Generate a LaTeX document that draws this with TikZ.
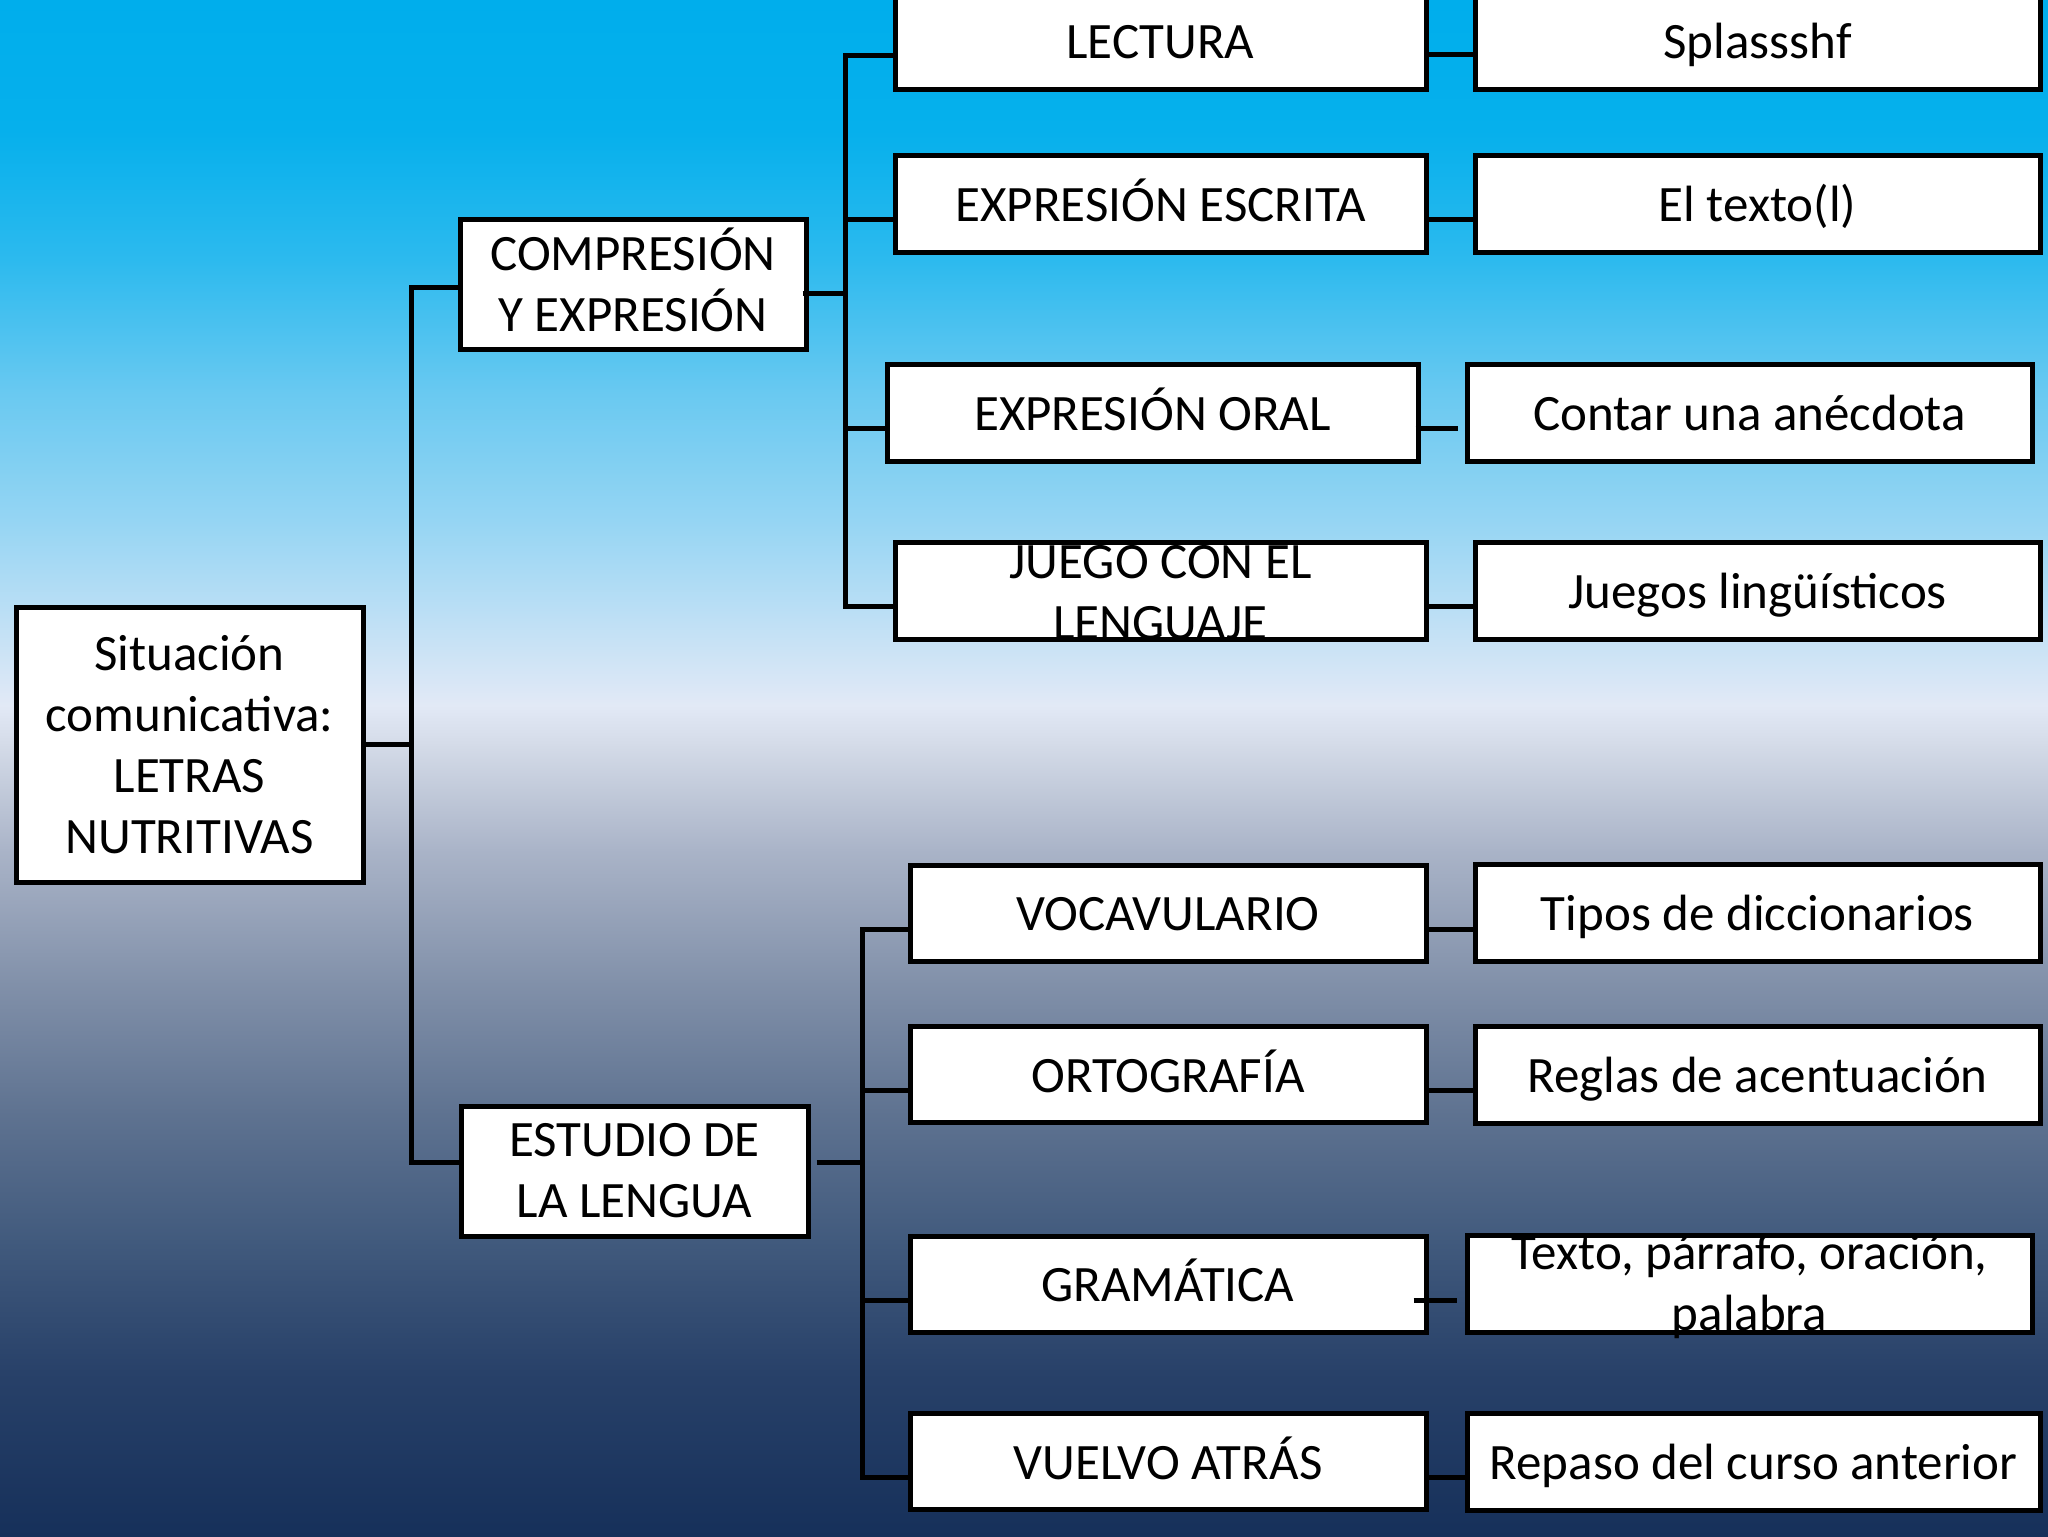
\documentclass[tikz,border=0pt]{standalone}
\usepackage{fontspec}
\setmainfont{Carlito}
\definecolor{bga}{RGB}{0,174,236}
\definecolor{bgb}{RGB}{6,176,236}
\definecolor{bgc}{RGB}{45,186,238}
\definecolor{bgd}{RGB}{105,201,241}
\definecolor{bge}{RGB}{150,213,243}
\definecolor{bgf}{RGB}{188,223,245}
\definecolor{bgg}{RGB}{226,233,246}
\definecolor{bgh}{RGB}{212,219,232}
\definecolor{bgi}{RGB}{170,180,200}
\definecolor{bgj}{RGB}{130,145,170}
\definecolor{bgk}{RGB}{95,115,145}
\definecolor{bgl}{RGB}{65,90,125}
\definecolor{bgm}{RGB}{40,65,105}
\definecolor{bgn}{RGB}{22,48,90}
\tikzset{
  box/.style={draw=black, line width=2.5pt, fill=white, inner sep=0pt},
  txt/.style={font=\fontsize{25.5}{30.5}\selectfont, align=center, text=black, inner sep=0pt},
  one/.style={txt, text height=19.5pt, text depth=2pt},
  conn/.style={draw=black, line width=2.5pt},
  midbox/.style={box, minimum width=265.5pt, minimum height=48.5pt},
  rightbox/.style={box, minimum width=282.5pt, minimum height=48.5pt},
  lowbox/.style={box, minimum width=258pt, minimum height=48pt},
}
\begin{document}
\begin{tikzpicture}[x=0.5pt,y=-0.5pt]
\useasboundingbox (0,0) rectangle (2048,1536);
% background
\shade[top color=bga, bottom color=bgb] (0,-1) rectangle (2048,132);
\shade[top color=bgb, bottom color=bgc] (0,131) rectangle (2048,262);
\shade[top color=bgc, bottom color=bgd] (0,261) rectangle (2048,393);
\shade[top color=bgd, bottom color=bge] (0,392) rectangle (2048,523);
\shade[top color=bge, bottom color=bgf] (0,522) rectangle (2048,615);
\shade[top color=bgf, bottom color=bgg] (0,614) rectangle (2048,706);
\shade[top color=bgg, bottom color=bgh] (0,705) rectangle (2048,745);
\shade[top color=bgh, bottom color=bgi] (0,744) rectangle (2048,850);
\shade[top color=bgi, bottom color=bgj] (0,849) rectangle (2048,981);
\shade[top color=bgj, bottom color=bgk] (0,980) rectangle (2048,1111);
\shade[top color=bgk, bottom color=bgl] (0,1110) rectangle (2048,1242);
\shade[top color=bgl, bottom color=bgm] (0,1241) rectangle (2048,1372);
\shade[top color=bgm, bottom color=bgn] (0,1371) rectangle (2048,1537);

% boxes
\node[box, minimum width=173.5pt, minimum height=137.5pt] (root) at (189.5,744.5) {};
\node[box, minimum width=173pt, minimum height=65pt] (comp) at (633,284) {};
\node[box, minimum width=173.5pt, minimum height=65pt] (est) at (634.5,1171) {};

\node[midbox] (lect) at (1160.5,41.5) {};
\node[midbox] (ee) at (1160.5,203.5) {};
\node[midbox] (eo) at (1152.5,412.5) {};
\node[midbox] (jl) at (1160.5,590.5) {};

\node[rightbox] (spl) at (1757.5,41.5) {};
\node[rightbox] (etx) at (1757.5,203.5) {};
\node[rightbox] (cont) at (1749.5,412.5) {};
\node[rightbox] (jling) at (1757.5,590.5) {};

\node[lowbox] (voc) at (1168,913) {};
\node[lowbox] (ort) at (1168,1074.5) {};
\node[lowbox] (gram) at (1168,1284) {};
\node[lowbox] (vue) at (1168,1461.5) {};

\node[rightbox] (tipos) at (1757.5,913) {};
\node[rightbox] (reg) at (1757.5,1074.5) {};
\node[rightbox] (texto) at (1749.5,1284) {};
\node[rightbox, minimum width=286.5pt] (rep) at (1753.5,1461.5) {};

% texts
\node[txt] (root-t) at (root) {Situación\\comunicativa:\\LETRAS\\NUTRITIVAS};
\node[txt] (comp-t) at ([yshift=2pt]comp.center) {COMPRESIÓN\\Y EXPRESIÓN};
\node[txt] (est-t) at (est) {ESTUDIO DE\\LA LENGUA};
\node[one] (lect-t) at (lect) {LECTURA};
\node[one] (ee-t) at (ee) {EXPRESIÓN ESCRITA};
\node[one] (eo-t) at (eo) {EXPRESIÓN ORAL};
\node[txt] (jl-t) at ([yshift=-1pt]jl.center) {JUEGO CON EL\\LENGUAJE};
\node[one] (spl-t) at (spl) {Splassshf};
\node[one] (etx-t) at (etx) {El texto(l)};
\node[one] (cont-t) at (cont) {Contar una anécdota};
\node[one] (jling-t) at (jling) {Juegos lingüísticos};
\node[one] (voc-t) at (voc) {VOCAVULARIO};
\node[one] (ort-t) at (ort) {ORTOGRAFÍA};
\node[one] (gram-t) at (gram) {GRAMÁTICA};
\node[one] (vue-t) at (vue) {VUELVO ATRÁS};
\node[one] (tipos-t) at (tipos) {Tipos de diccionarios};
\node[one] (reg-t) at (reg) {Reglas de acentuación};
\node[txt] (texto-t) at ([yshift=-1.5pt]texto.center) {Texto, párrafo, oración,\\palabra};
\node[one] (rep-t) at (rep) {Repaso del curso anterior};

% connector coordinates
\coordinate (tx) at (411,0);
\coordinate (ux) at (845,0);
\coordinate (lx) at (862,0);
\coordinate (comp-w) at ([yshift=-1.5pt]comp.west);
\coordinate (est-w) at ([yshift=4.5pt]est.west);
\coordinate (comp-e) at ([xshift=-3pt,yshift=-4.5pt]comp.east);
\coordinate (est-e) at ([xshift=3pt,yshift=4.5pt]est.east);
\coordinate (lect-w) at ([yshift=-7pt]lect.west);
\coordinate (ee-w) at ([yshift=-8pt]ee.west);
\coordinate (eo-w) at ([yshift=-8pt]eo.west);
\coordinate (jl-w) at ([yshift=-8pt]jl.west);
\coordinate (voc-w) at ([yshift=-8pt]voc.west);
\coordinate (ort-w) at ([yshift=-8pt]ort.west);
\coordinate (gram-w) at ([yshift=-8pt]gram.west);
\coordinate (vue-w) at ([yshift=-8pt]vue.west);

% trunk
\draw[conn] (root.east) -- (root.east -| tx);
\draw[conn] (comp-w) -- (comp-w -| tx) -- (est-w -| tx) -- (est-w);
% upper branch
\draw[conn] (comp-e) -- (comp-e -| ux);
\draw[conn] (lect-w) -- (lect-w -| ux) -- (jl-w -| ux) -- (jl-w);
\draw[conn] (ee-w) -- (ee-w -| ux);
\draw[conn] (eo-w) -- (eo-w -| ux);
% lower branch
\draw[conn] (est-e) -- (est-e -| lx);
\draw[conn] (voc-w) -- (voc-w -| lx) -- (vue-w -| lx) -- (vue-w);
\draw[conn] (ort-w) -- (ort-w -| lx);
\draw[conn] (gram-w) -- (gram-w -| lx);
% right connectors
\draw[conn] ([yshift=-6.5pt]lect.east) -- ([yshift=-6.5pt]spl.west);
\draw[conn] ([yshift=-8pt]ee.east) -- ([yshift=-8pt]etx.west);
\draw[conn] ([xshift=-2.5pt,yshift=-8pt]eo.east) -- ([xshift=-3.5pt,yshift=-8pt]cont.west);
\draw[conn] ([yshift=-8pt]jl.east) -- ([yshift=-8pt]jling.west);
\draw[conn] ([yshift=-8pt]voc.east) -- ([yshift=-8pt]tipos.west);
\draw[conn] ([yshift=-8pt]ort.east) -- ([yshift=-8pt]reg.west);
\draw[conn] ([xshift=-7.5pt,yshift=-8pt]gram.east) -- ([xshift=-4pt,yshift=-8pt]texto.west);
\draw[conn] ([yshift=-8pt]vue.east) -- ([yshift=-8pt]rep.west);
\end{tikzpicture}
\end{document}
